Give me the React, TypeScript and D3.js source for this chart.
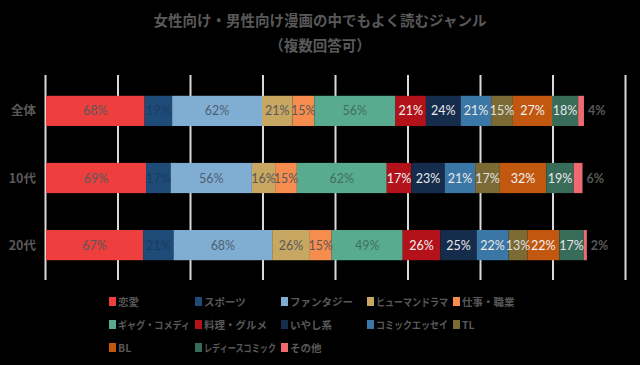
import React, { useEffect, useRef } from 'react';
import * as d3 from 'd3';

// rows (top to bottom)
const groups = ['全体', '10代', '20代'];

const genres = [
  '恋愛', 'スポーツ', 'ファンタジー', 'ヒューマンドラマ', '仕事・職業',
  'ギャグ・コメディ', '料理・グルメ', 'いやし系', 'コミックエッセイ', 'TL',
  'BL', 'レディースコミック', 'その他',
];

// values per genre: [全体, 10代, 20代]
const renai = [68, 69, 67];
const sports = [19, 17, 21];
const fantasy = [62, 56, 68];
const human = [21, 16, 26];
const shigoto = [15, 15, 15];
const gag = [56, 62, 49];
const ryori = [21, 17, 26];
const iyashi = [24, 23, 25];
const essay = [21, 21, 22];
const tl = [15, 17, 13];
const bl = [27, 32, 22];
const ladies = [18, 19, 17];
const other = [4, 6, 2];

const series = [renai, sports, fantasy, human, shigoto, gag, ryori, iyashi, essay, tl, bl, ladies, other];

const colors = [
  '#ee3e3e', '#1f4b78', '#80aed3', '#c7a761', '#f68d4f',
  '#58ab8f', '#b3121a', '#152c4c', '#3b77a6', '#7b6a34',
  '#c2570f', '#386b58', '#f06a72',
];
const labelColors = [
  '#595959', '#173d63', '#4f5f70', '#595959', '#595959',
  '#3f6f5e', '#f2f2f2', '#e8e8e8', '#e8e8e8', '#e0e0e0',
  '#f2f2f2', '#e8e8e8', '#595959',
];

const xTicks = [0, 50, 100, 150, 200, 250, 300, 350, 400];

const App = () => {
  const svgRef = useRef<SVGSVGElement>(null);

  useEffect(() => {
    const svg = d3.select(svgRef.current);
    svg.selectAll('*').remove();

    const width = 640;
    const height = 365;

    svg.append('rect').attr('width', width).attr('height', height).attr('fill', '#000');

    const x = d3.scaleLinear().domain([0, 400]).range([46, 626]);
    const y = d3.scaleBand().domain(groups).range([77, 279]).paddingInner(0.55).paddingOuter(0.28);

    // grid
    svg.selectAll('.grid')
      .data(xTicks)
      .enter()
      .append('line')
      .attr('x1', d => x(d) - 0.5)
      .attr('x2', d => x(d) - 0.5)
      .attr('y1', 75)
      .attr('y2', 280)
      .attr('stroke', '#d9d9d9')
      .attr('stroke-width', 2);

    // stacked data
    const rows = groups.map((g, gi) => {
      let acc = 0;
      return series.map((s, si) => {
        const seg = { group: g, si, x0: acc, x1: acc + s[gi], v: s[gi] };
        acc += s[gi];
        return seg;
      });
    });

    const segs = rows.flat();
    const bh = y.bandwidth();

    svg.selectAll('.seg')
      .data(segs)
      .enter()
      .append('rect')
      .attr('x', d => x(d.x0))
      .attr('y', d => y(d.group)!)
      .attr('width', d => x(d.x1) - x(d.x0))
      .attr('height', bh)
      .attr('fill', d => colors[d.si]);

    // labels
    svg.selectAll('.lbl')
      .data(segs)
      .enter()
      .append('text')
      .attr('x', d => d.si === 12 ? x(d.x1) + 4 : (x(d.x0) + x(d.x1)) / 2)
      .attr('y', d => y(d.group)! + bh / 2)
      .attr('dy', '0.36em')
      .attr('text-anchor', d => d.si === 12 ? 'start' : 'middle')
      .style('font-family', 'Lato, "Open Sans", sans-serif')
      .style('font-size', '12.5px')
      .style('font-weight', d => d.si === 12 ? 'bold' : 'normal')
      .style('fill', d => labelColors[d.si])
      .text(d => `${d.v}%`);

    // category labels
    svg.selectAll('.cat')
      .data(groups)
      .enter()
      .append('text')
      .attr('x', 36)
      .attr('y', d => y(d)! + bh / 2)
      .attr('dy', '0.36em')
      .attr('text-anchor', 'end')
      .style('font-family', '"Noto Sans CJK JP", sans-serif')
      .style('font-size', '12.5px')
      .style('font-weight', 'bold')
      .style('fill', '#595959')
      .text(d => d);

    // title
    const title = svg.append('text')
      .attr('text-anchor', 'middle')
      .style('font-family', '"Noto Sans CJK JP", sans-serif')
      .style('font-size', '14.5px')
      .style('font-weight', 'bold')
      .style('fill', '#595959');
    title.append('tspan').attr('x', 320).attr('y', 26).text('女性向け・男性向け漫画の中でもよく読むジャンル');
    title.append('tspan').attr('x', 320).attr('y', 51).text('（複数回答可）');

    // legend
    const legend = svg.append('g');
    const items = legend.selectAll('.leg')
      .data(genres)
      .enter()
      .append('g')
      .attr('transform', (d, i) => `translate(${109 + (i % 5) * 86}, ${302 + Math.floor(i / 5) * 23})`);

    items.append('rect')
      .attr('x', 0)
      .attr('y', -5)
      .attr('width', 7)
      .attr('height', 9)
      .attr('fill', (d, i) => colors[i]);

    items.append('text')
      .attr('x', 9)
      .attr('y', 0)
      .attr('dy', '0.36em')
      .style('font-family', '"Noto Sans CJK JP", sans-serif')
      .style('font-size', '10.5px')
      .style('font-weight', 'bold')
      .style('fill', '#595959')
      .text(d => d)
      .each(function () {
        const el = this as SVGTextElement;
        const w = el.getComputedTextLength();
        if (w > 72) {
          el.setAttribute('textLength', '72');
          el.setAttribute('lengthAdjust', 'spacingAndGlyphs');
        }
      });
  }, []);

  return <svg ref={svgRef} width={640} height={365} style={{ display: 'block', position: 'absolute', left: 0, top: 0 }}></svg>;
};

export default App;
